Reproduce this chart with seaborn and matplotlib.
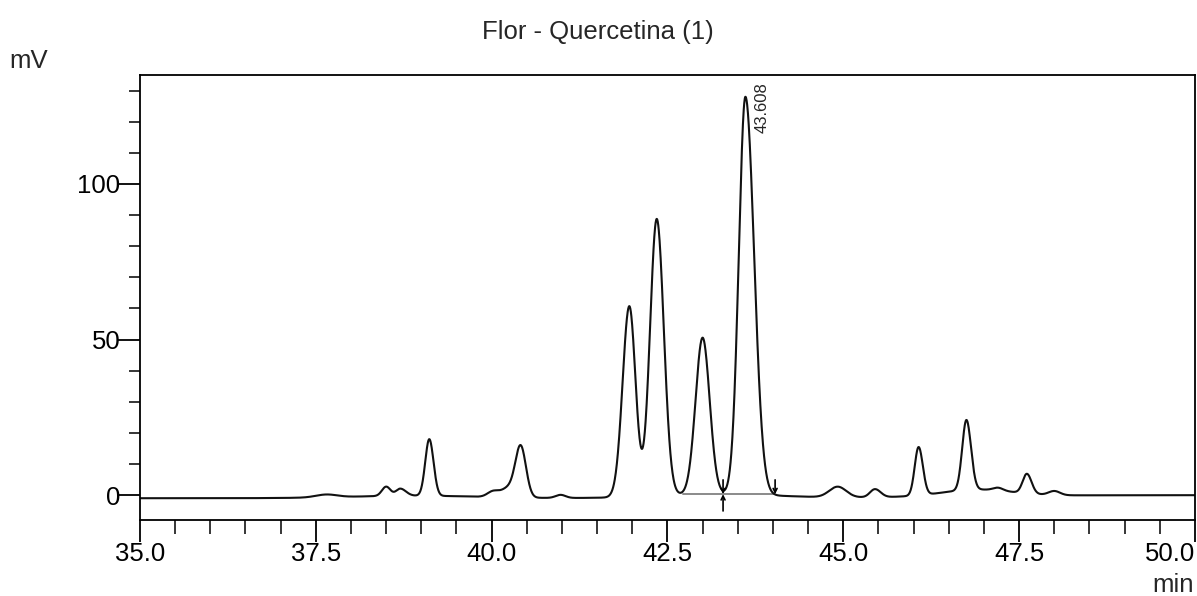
import numpy as np
import pandas as pd
import seaborn as sns
import matplotlib.pyplot as plt
from matplotlib.ticker import MultipleLocator

# ---- peak table (retention time in min, height in mV, left/right widths in min) ----
peak_rt = [37.65, 38.50, 38.70, 39.113, 40.02, 40.24, 40.413, 40.98,
           41.957, 42.347, 42.999, 43.608,
           44.92, 45.45, 46.07, 46.75, 47.20, 47.61, 48.00]
peak_height = [0.9, 3.0, 2.3, 18.2, 1.8, 3.0, 16.2, 1.0,
               61.3, 89.0, 50.3, 127.8,
               3.4, 2.6, 15.5, 22.5, 0.9, 6.3, 1.3]
peak_sigma_left = [0.15, 0.06, 0.06, 0.057, 0.08, 0.10, 0.075, 0.07,
                   0.095, 0.095, 0.10, 0.094,
                   0.12, 0.07, 0.055, 0.060, 0.07, 0.060, 0.08]
peak_sigma_right = [0.15, 0.06, 0.08, 0.060, 0.08, 0.10, 0.075, 0.07,
                    0.088, 0.100, 0.10, 0.123,
                    0.12, 0.08, 0.060, 0.065, 0.07, 0.066, 0.08]

# slow baseline drift components (centre, amplitude, left/right widths)
drift_rt = [38.9, 43.2, 46.9, 49.5]
drift_height = [0.8, 1.3, 2.2, 1.0]
drift_sigma_left = [0.9, 0.8, 0.5, 2.5]
drift_sigma_right = [0.9, 0.8, 0.5, 2.0]
baseline_level = -1.0

# integration of the labelled peak
labelled_rt = 43.608
integration_start = 42.72
integration_split = 43.29
integration_end = 44.03
integration_level = 0.3

x_ticks = [35.0, 37.5, 40.0, 42.5, 45.0, 47.5, 50.0]
y_ticks = [0, 50, 100]


def bigauss(t, rt, h, sl, sr):
    s = np.where(t < rt, sl, sr)
    return h * np.exp(-0.5 * ((t - rt) / s) ** 2)


t = np.linspace(35.0, 50.0, 4001)
signal = np.full_like(t, baseline_level)
for rt, h, sl, sr in zip(drift_rt, drift_height, drift_sigma_left, drift_sigma_right):
    signal += bigauss(t, rt, h, sl, sr)
for rt, h, sl, sr in zip(peak_rt, peak_height, peak_sigma_left, peak_sigma_right):
    signal += bigauss(t, rt, h, sl, sr)
trace = pd.DataFrame({"min": t, "mV": signal})

sns.set_style("ticks")
plt.rcParams["font.family"] = ["Liberation Sans", "DejaVu Sans"]
plt.rcParams["font.size"] = 18.5

fig = plt.figure(figsize=(11.97, 5.96), dpi=100)
ax = fig.add_axes([140 / 1197, 76 / 596, 1055 / 1197, 445 / 596])

sns.lineplot(data=trace, x="min", y="mV", ax=ax, color="#111111", lw=1.5)

# integration baseline and event markers
ax.plot([integration_start, integration_end], [integration_level] * 2,
        color="#8a8a8a", lw=1.4, zorder=1)
arrow = dict(arrowstyle="->", lw=1.2, color="black", shrinkA=0, shrinkB=0,
             mutation_scale=7)
ax.annotate("", xy=(integration_split, integration_level),
            xytext=(integration_split, integration_level + 4.6), arrowprops=arrow)
ax.annotate("", xy=(integration_split, integration_level),
            xytext=(integration_split, integration_level - 5.4), arrowprops=arrow)
ax.annotate("", xy=(integration_end, integration_level),
            xytext=(integration_end, integration_level + 4.6), arrowprops=arrow)

apex = float(np.interp(labelled_rt, t, signal))
ax.text(labelled_rt + 0.236, apex - 11.5, f"{labelled_rt:.3f}", rotation=90,
        ha="center", va="bottom", fontsize=12)

ax.set_xlim(35.0, 50.0)
ax.set_ylim(-8, 135)
ax.set_xticks(x_ticks)
ax.set_xticklabels([f"{v:.1f}" for v in x_ticks])
ax.set_yticks(y_ticks)
ax.xaxis.set_minor_locator(MultipleLocator(0.5))
ax.yaxis.set_minor_locator(MultipleLocator(10))
ax.set_xlabel("")
ax.set_ylabel("")

for s in ax.spines.values():
    s.set_visible(True)
    s.set_color("black")
    s.set_linewidth(1.3)
ax.tick_params(axis="both", which="major", direction="out", width=1.3,
               color="black", labelcolor="black", labelsize=18.5)
ax.tick_params(axis="x", which="major", length=16, pad=0)
ax.tick_params(axis="y", which="major", length=16, pad=-2)
ax.tick_params(axis="x", which="minor", direction="out", length=10, width=1.3)
ax.tick_params(axis="y", which="minor", direction="out", length=8, width=1.3)

fig.canvas.draw()
ax.get_xticklabels()[-1].set_horizontalalignment("right")

fig.text(0.4992, 1 - 38.5 / 596, "Flor - Quercetina (1)", ha="center",
         va="baseline", fontsize=18.5)
fig.text(9.5 / 1197, 1 - 68.3 / 596, "mV", ha="left", va="baseline", fontsize=18.5)
fig.text(1194 / 1197, 1 - 592 / 596, "min", ha="right", va="baseline", fontsize=18.5)

fig.savefig("out.png", dpi=100, facecolor="white")
